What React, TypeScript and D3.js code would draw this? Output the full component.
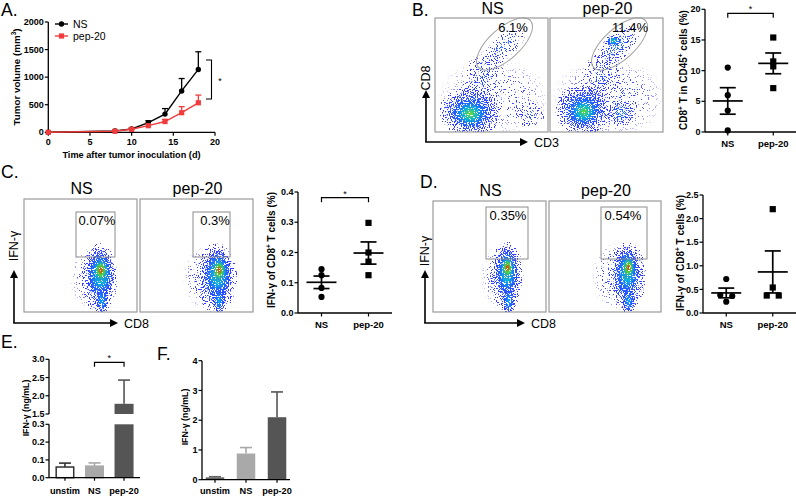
import React from 'react';
import * as d3 from 'd3';

const AXIS_FONT = "'Liberation Sans', Arial, Helvetica, sans-serif";
const LETTER_FONT = "'Liberation Sans', Arial, sans-serif";
const RED = '#f03c3c';
const LIGHT = '#a9a9a9';
const DARK = '#555555';

// ---------- Panel A: tumor growth ----------
const daysA = [0, 8, 10, 12, 14, 16, 18];
const nsVolume = [0, 25, 60, 175, 330, 750, 1140];
const nsVolumeErr = [0, 8, 20, 35, 100, 225, 320];
const pepVolume = [0, 20, 55, 120, 195, 355, 535];
const pepVolumeErr = [0, 8, 15, 25, 40, 110, 140];
const volTicks = [0, 500, 1000, 1500, 2000];
const dayTicks = [0, 5, 10, 15, 20];

// ---------- Scatter panels ----------
const groups = ['NS', 'pep-20'];
const cd8NS = [10.5, 6.0, 3.5, 0.25];
const cd8Pep = [15.4, 11.5, 10.7, 7.15];
const cd8Ticks = [0, 5, 10, 15, 20];
const ifnTumorNS = [0.145, 0.125, 0.083, 0.053];
const ifnTumorPep = [0.298, 0.2, 0.17, 0.125];
const ifnTumorTicks = [0, 0.1, 0.2, 0.3, 0.4];
const ifnSpleenNS = [0.72, 0.38, 0.36, 0.24];
const ifnSpleenPep = [2.2, 0.54, 0.37, 0.37];
const ifnSpleenTicks = [0, 0.5, 1.0, 1.5, 2.0, 2.5];

// ---------- Bar panels ----------
const stimGroups = ['unstim', 'NS', 'pep-20'];
const ifnE = [0.06, 0.065, 1.78];
const ifnEErr = [0.022, 0.018, 0.65];
const eLowTicks = [0, 0.1, 0.2, 0.3];
const eHighTicks = [1.5, 2.0, 2.5, 3.0];
const ifnF = [0.08, 0.88, 2.1];
const ifnFErr = [0.02, 0.2, 0.85];
const fTicks = [0, 1, 2, 3, 4];

// ---------- Flow plots ----------
const flowTitles = ['NS', 'pep-20'];
const pctB = ['6.1%', '11.4%'];
const pctC = ['0.07%', '0.3%'];
const pctD = ['0.35%', '0.54%'];

type Cloud = { x: number; y: number; rx: number; ry: number; rot: number; level: number };
const cloudsBNS: Cloud[] = [
  { x: 0.52, y: 0.3, rx: 0.58, ry: 0.4, rot: 0, level: 0.03 },
  { x: 0.42, y: 0.48, rx: 0.17, ry: 0.27, rot: -20, level: 0.06 },
  { x: 0.62, y: 0.76, rx: 0.24, ry: 0.11, rot: 42, level: 0.1 },
  { x: 0.84, y: 0.15, rx: 0.13, ry: 0.11, rot: 0, level: 0.08 },
  { x: 0.31, y: 0.17, rx: 0.28, ry: 0.22, rot: 0, level: 0.25 },
  { x: 0.31, y: 0.16, rx: 0.16, ry: 0.13, rot: 0, level: 0.6 },
];
const cloudsBPep: Cloud[] = [
  { x: 0.52, y: 0.3, rx: 0.58, ry: 0.4, rot: 0, level: 0.035 },
  { x: 0.45, y: 0.48, rx: 0.17, ry: 0.27, rot: -20, level: 0.06 },
  { x: 0.6, y: 0.76, rx: 0.25, ry: 0.12, rot: 42, level: 0.14 },
  { x: 0.56, y: 0.8, rx: 0.07, ry: 0.05, rot: 0, level: 0.4 },
  { x: 0.63, y: 0.17, rx: 0.13, ry: 0.12, rot: 0, level: 0.15 },
  { x: 0.29, y: 0.19, rx: 0.25, ry: 0.22, rot: 0, level: 0.25 },
  { x: 0.3, y: 0.18, rx: 0.14, ry: 0.13, rot: 0, level: 0.58 },
];
const cloudsCNS: Cloud[] = [
  { x: 0.6, y: 0.3, rx: 0.22, ry: 0.32, rot: 0, level: 0.04 },
  { x: 0.67, y: 0.3, rx: 0.16, ry: 0.32, rot: 0, level: 0.18 },
  { x: 0.68, y: 0.34, rx: 0.12, ry: 0.22, rot: 0, level: 0.55 },
  { x: 0.68, y: 0.37, rx: 0.075, ry: 0.11, rot: 0, level: 1 },
  { x: 0.69, y: 0.1, rx: 0.06, ry: 0.13, rot: 0, level: 0.25 },
];
const cloudsCPep: Cloud[] = [
  { x: 0.61, y: 0.3, rx: 0.26, ry: 0.32, rot: 0, level: 0.05 },
  { x: 0.68, y: 0.3, rx: 0.18, ry: 0.32, rot: 0, level: 0.2 },
  { x: 0.69, y: 0.34, rx: 0.12, ry: 0.22, rot: 0, level: 0.55 },
  { x: 0.7, y: 0.37, rx: 0.075, ry: 0.11, rot: 0, level: 1 },
  { x: 0.7, y: 0.1, rx: 0.06, ry: 0.13, rot: 0, level: 0.25 },
];
const cloudsDNS: Cloud[] = [
  { x: 0.6, y: 0.32, rx: 0.2, ry: 0.34, rot: 0, level: 0.04 },
  { x: 0.655, y: 0.32, rx: 0.15, ry: 0.32, rot: 0, level: 0.18 },
  { x: 0.655, y: 0.37, rx: 0.1, ry: 0.22, rot: 0, level: 0.55 },
  { x: 0.66, y: 0.4, rx: 0.065, ry: 0.11, rot: 0, level: 1 },
  { x: 0.67, y: 0.1, rx: 0.06, ry: 0.13, rot: 0, level: 0.25 },
];
const cloudsDPep: Cloud[] = [
  { x: 0.62, y: 0.32, rx: 0.26, ry: 0.34, rot: 0, level: 0.05 },
  { x: 0.7, y: 0.32, rx: 0.17, ry: 0.32, rot: 0, level: 0.2 },
  { x: 0.7, y: 0.37, rx: 0.1, ry: 0.22, rot: 0, level: 0.55 },
  { x: 0.71, y: 0.4, rx: 0.065, ry: 0.11, rot: 0, level: 1 },
  { x: 0.71, y: 0.1, rx: 0.06, ry: 0.13, rot: 0, level: 0.25 },
];

const densityColor = d3
  .scaleLinear<string>()
  .domain([0, 0.25, 0.5, 0.75, 1])
  .range(['#3535ff', '#00b4ff', '#22d444', '#f2ee00', '#ff2a00'])
  .interpolate(d3.interpolateRgb);

type Box = { x: number; y: number; w: number; h: number };

function FlowPlot({ id, box, clouds, seed, title, titleY, children }: any) {
  const b: Box = box;
  const sx = d3.scaleLinear().domain([0, 1]).range([b.x, b.x + b.w]);
  const sy = d3.scaleLinear().domain([0, 1]).range([b.y + b.h, b.y]);
  const alphaOf = (l: number) => Math.min(1, 0.14 + l * 2.6);
  const shapes = (kind: string) =>
    clouds.map((c: Cloud, i: number) => {
      const cx = sx(c.x);
      const cy = sy(c.y);
      return (
        <ellipse
          key={kind + i}
          cx={cx}
          cy={cy}
          rx={c.rx * b.w}
          ry={c.ry * b.h}
          transform={`rotate(${-c.rot},${cx},${cy})`}
          fill={`url(#${id}-${kind}${i})`}
        />
      );
    });
  return (
    <g>
      <defs>
        <clipPath id={`${id}-clip`}>
          <rect x={b.x} y={b.y} width={b.w} height={b.h} />
        </clipPath>
        <filter id={`${id}-spk`} filterUnits="userSpaceOnUse" x={b.x} y={b.y} width={b.w} height={b.h} colorInterpolationFilters="sRGB">
          <feTurbulence type="fractalNoise" baseFrequency="0.85" numOctaves={1} seed={seed} result="t" />
          <feColorMatrix in="t" type="matrix" values="0 0 0 0 0  0 0 0 0 0  0 0 0 0 0  3 0 0 0 -1" result="n" />
          <feComposite in="SourceAlpha" in2="n" operator="arithmetic" k1={0} k2={10} k3={-10} k4={-0.8} result="m" />
          <feFlood floodColor="#fff" floodOpacity={1} result="w" />
          <feComposite in="w" in2="m" operator="in" />
        </filter>
        <mask id={`${id}-mask`} maskUnits="userSpaceOnUse" x={b.x} y={b.y} width={b.w} height={b.h}>
          <g filter={`url(#${id}-spk)`}>{shapes('d')}</g>
        </mask>
        {clouds.map((c: Cloud, i: number) => {
          const a = alphaOf(c.level);
          return (
            <radialGradient key={'d' + i} id={`${id}-d${i}`}>
              <stop offset="0" stopColor="#fff" stopOpacity={a} />
              <stop offset="0.4" stopColor="#fff" stopOpacity={a * 0.85} />
              <stop offset="0.75" stopColor="#fff" stopOpacity={a * 0.5} />
              <stop offset="0.97" stopColor="#fff" stopOpacity={a * 0.25} />
              <stop offset="1" stopColor="#fff" stopOpacity={0} />
            </radialGradient>
          );
        })}
        {clouds.map((c: Cloud, i: number) => (
          <radialGradient key={'c' + i} id={`${id}-c${i}`}>
            <stop offset="0" stopColor={densityColor(c.level)} stopOpacity={1} />
            <stop offset="0.4" stopColor={densityColor(c.level * 0.55)} stopOpacity={0.85} />
            <stop offset="0.75" stopColor={densityColor(c.level * 0.15)} stopOpacity={0.5} />
            <stop offset="1" stopColor={densityColor(0)} stopOpacity={0} />
          </radialGradient>
        ))}
      </defs>
      <g clipPath={`url(#${id}-clip)`}>
        <g mask={`url(#${id}-mask)`}>
          <rect x={b.x} y={b.y} width={b.w} height={b.h} fill={densityColor(0)} />
          {shapes('c')}
        </g>
      </g>
      <rect x={b.x} y={b.y} width={b.w} height={b.h} fill="none" stroke="#9a9a9a" strokeWidth={1.2} />
      <text x={b.x + b.w / 2 + 1} y={titleY} textAnchor="middle" fontSize={16} fontFamily={AXIS_FONT}>
        {title}
      </text>
      {children}
    </g>
  );
}

function Arrows({ x0, y0, x1, y1, xLabel, yLabel, yLabelY }: any) {
  return (
    <g>
      <line x1={x0} y1={y0} x2={x0} y2={y1 + 7} stroke="#000" strokeWidth={1.6} />
      <path d={`M${x0 - 4},${y1 + 8} L${x0},${y1} L${x0 + 4},${y1 + 8} Z`} fill="#000" />
      <line x1={x0 - 0.8} y1={y0} x2={x1 - 7} y2={y0} stroke="#000" strokeWidth={1.6} />
      <path d={`M${x1 - 8},${y0 - 4} L${x1},${y0} L${x1 - 8},${y0 + 4} Z`} fill="#000" />
      <text x={x1 + 6} y={y0 + 4.5} fontSize={12.5} fontFamily={AXIS_FONT}>
        {xLabel}
      </text>
      <text
        transform={`translate(${x0},${yLabelY}) rotate(-90)`}
        textAnchor="middle"
        dominantBaseline="central"
        fontSize={12.5}
        fontFamily={AXIS_FONT}
      >
        {yLabel}
      </text>
    </g>
  );
}

function Pct({ x, y, t }: any) {
  return (
    <text x={x} y={y} textAnchor="middle" fontSize={13} fontFamily={AXIS_FONT}>
      {t}
    </text>
  );
}

function YAxis({ scale, x, ticks, fmt }: any) {
  const [r0, r1] = scale.range();
  return (
    <g>
      <line x1={x} x2={x} y1={r0} y2={r1} stroke="#000" strokeWidth={1.3} />
      {ticks.map((t: number) => (
        <g key={t}>
          <line x1={x - 3.5} x2={x} y1={scale(t)} y2={scale(t)} stroke="#000" strokeWidth={1.2} />
          <text x={x - 4.5} y={scale(t)} dy="0.35em" textAnchor="end" fontSize={9} fontWeight="bold" fontFamily={AXIS_FONT}>
            {fmt(t)}
          </text>
        </g>
      ))}
    </g>
  );
}

function RotTitle({ x, y, children, size = 9.5 }: any) {
  return (
    <text
      transform={`translate(${x},${y}) rotate(-90)`}
      textAnchor="middle"
      dominantBaseline="central"
      fontSize={size}
      fontWeight="bold"
      fontFamily={AXIS_FONT}
    >
      {children}
    </text>
  );
}

function swarmOffsets(vals: number[], y: (v: number) => number) {
  const idx = vals.map((_, i) => i).sort((a, b) => vals[b] - vals[a]);
  const offs = new Array(vals.length).fill(0);
  let i = 0;
  while (i < idx.length) {
    let j = i + 1;
    while (j < idx.length && Math.abs(y(vals[idx[j]]) - y(vals[idx[j - 1]])) < 4.5) j++;
    const n = j - i;
    for (let k = i; k < j; k++) offs[idx[k]] = (k - i - (n - 1) / 2) * 12;
    i = j;
  }
  return offs;
}

function Scatter({ x0, x1, yScale, ticks, fmt, sets, sig }: any) {
  const xs = d3.scalePoint<string>().domain(groups).range([x0, x1]).padding(0.5);
  const yb = yScale.range()[0];
  return (
    <g fontFamily={AXIS_FONT}>
      <YAxis scale={yScale} x={x0} ticks={ticks} fmt={fmt} />
      <line x1={x0} x2={x1} y1={yb} y2={yb} stroke="#000" strokeWidth={1.3} />
      {groups.map((g, gi) => {
        const vals: number[] = sets[gi];
        const cx = xs(g) as number;
        const m = d3.mean(vals) as number;
        const sem = (d3.deviation(vals) as number) / Math.sqrt(vals.length);
        const offs = swarmOffsets(vals, yScale);
        return (
          <g key={g}>
            <line x1={cx} x2={cx} y1={yb} y2={yb + 3.5} stroke="#000" strokeWidth={1.2} />
            <text x={cx} y={yb + 14.5} textAnchor="middle" fontSize={9.5} fontWeight="bold">
              {g}
            </text>
            {vals.map((v, i) =>
              gi === 0 ? (
                <circle key={i} cx={cx + offs[i]} cy={yScale(v)} r={3.1} fill="#000" />
              ) : (
                <rect key={i} x={cx + offs[i] - 3.1} y={yScale(v) - 3.1} width={6.2} height={6.2} fill="#000" />
              )
            )}
            <line x1={cx - 15} x2={cx + 15} y1={yScale(m)} y2={yScale(m)} stroke="#000" strokeWidth={1.7} />
            <line x1={cx} x2={cx} y1={yScale(m - sem)} y2={yScale(m + sem)} stroke="#000" strokeWidth={1.7} />
            <line x1={cx - 8} x2={cx + 8} y1={yScale(m + sem)} y2={yScale(m + sem)} stroke="#000" strokeWidth={1.7} />
            <line x1={cx - 8} x2={cx + 8} y1={yScale(m - sem)} y2={yScale(m - sem)} stroke="#000" strokeWidth={1.7} />
          </g>
        );
      })}
      {sig && (
        <g>
          <path
            d={`M${xs('NS')},${sig + 4.5} V${sig} H${xs('pep-20')} V${sig + 4.5}`}
            fill="none"
            stroke="#000"
            strokeWidth={1.2}
          />
          <text x={((xs('NS') as number) + (xs('pep-20') as number)) / 2} y={sig - 1} textAnchor="middle" fontSize={9}>
            *
          </text>
        </g>
      )}
    </g>
  );
}

function Letter({ x, y, t }: any) {
  return (
    <text x={x} y={y} fontSize={17.5} fontFamily={LETTER_FONT}>
      {t}
    </text>
  );
}

function PanelA() {
  const x = d3.scaleLinear().domain([0, 20]).range([48.3, 215]);
  const y = d3.scaleLinear().domain([0, 2000]).range([132.3, 22]);
  const lineGen = d3
    .line<number>()
    .x((_, i) => x(daysA[i]))
    .y((d) => y(d));
  const series = [
    { vals: nsVolume, err: nsVolumeErr, color: '#000', shape: 'circle' },
    { vals: pepVolume, err: pepVolumeErr, color: RED, shape: 'square' },
  ];
  return (
    <g fontFamily={AXIS_FONT}>
      <YAxis scale={y} x={48.3} ticks={volTicks} fmt={(d: number) => String(d)} />
      <line x1={x(0)} x2={x(20)} y1={y(0)} y2={y(0)} stroke="#000" strokeWidth={1.3} />
      {dayTicks.map((t) => (
        <g key={t}>
          <line x1={x(t)} x2={x(t)} y1={y(0)} y2={y(0) + 3.5} stroke="#000" strokeWidth={1.2} />
          <text x={x(t)} y={y(0) + 12.5} textAnchor="middle" fontSize={9} fontWeight="bold">
            {t}
          </text>
        </g>
      ))}
      <text x={131.5} y={158} textAnchor="middle" fontSize={9.2} fontWeight="bold">
        Time after tumor inoculation (d)
      </text>
      <RotTitle x={16} y={77} size={9.8}>
        Tumor volume (mm<tspan dy={-3.5} fontSize={6.5}>3</tspan>
        <tspan dy={3.5}>)</tspan>
      </RotTitle>
      {series.map((s, si) => (
        <g key={si}>
          <path d={lineGen(s.vals) as string} fill="none" stroke={s.color} strokeWidth={1.4} />
          {s.vals.map((v, i) =>
            s.err[i] > 0 ? (
              <g key={i}>
                <line x1={x(daysA[i])} x2={x(daysA[i])} y1={y(v)} y2={y(v + s.err[i])} stroke={s.color} strokeWidth={1.3} />
                <line
                  x1={x(daysA[i]) - 3}
                  x2={x(daysA[i]) + 3}
                  y1={y(v + s.err[i])}
                  y2={y(v + s.err[i])}
                  stroke={s.color}
                  strokeWidth={1.3}
                />
              </g>
            ) : null
          )}
          {s.vals.map((v, i) =>
            s.shape === 'circle' ? (
              <circle key={'m' + i} cx={x(daysA[i])} cy={y(v)} r={2.7} fill={s.color} />
            ) : (
              <rect key={'m' + i} x={x(daysA[i]) - 2.6} y={y(v) - 2.6} width={5.2} height={5.2} fill={s.color} />
            )
          )}
        </g>
      ))}
      {/* legend */}
      <line x1={55} x2={68} y1={24} y2={24} stroke="#000" strokeWidth={1.4} />
      <circle cx={61.5} cy={24} r={2.7} fill="#000" />
      <text x={73} y={27.5} fontSize={10.5}>
        NS
      </text>
      <line x1={55} x2={68} y1={36} y2={36} stroke={RED} strokeWidth={1.4} />
      <rect x={58.9} y={33.4} width={5.2} height={5.2} fill={RED} />
      <text x={73} y={39.5} fontSize={10.5}>
        pep-20
      </text>
      {/* significance */}
      <path d="M206,60 H211.5 V99 H206" fill="none" stroke="#000" strokeWidth={1.1} />
      <text x={220} y={84} textAnchor="middle" fontSize={9}>
        *
      </text>
    </g>
  );
}

function PanelE() {
  const xb = d3.scaleBand<string>().domain(stimGroups).range([49, 140]).paddingInner(0.356).paddingOuter(0.218);
  const yLo = d3.scaleLinear().domain([0, 0.3]).range([477.7, 424.3]);
  const yHi = d3.scaleLinear().domain([1.5, 3.0]).range([414, 359.3]);
  const fills = ['#ffffff', LIGHT, DARK];
  const strokes = ['#333', LIGHT, DARK];
  const bw = xb.bandwidth();
  return (
    <g fontFamily={AXIS_FONT}>
      <YAxis scale={yLo} x={49} ticks={eLowTicks} fmt={d3.format('.1f')} />
      <YAxis scale={yHi} x={49} ticks={eHighTicks} fmt={d3.format('.1f')} />
      {stimGroups.map((g, i) => {
        const v = ifnE[i];
        const top = v + ifnEErr[i];
        const x0 = xb(g) as number;
        const cx = x0 + bw / 2;
        const hi = v > 0.3;
        const ys = hi ? yHi : yLo;
        return (
          <g key={g}>
            <line x1={cx} x2={cx} y1={ys(v)} y2={ys(top)} stroke={strokes[i]} strokeWidth={1.6} />
            <line x1={cx - 6} x2={cx + 6} y1={ys(top)} y2={ys(top)} stroke={strokes[i]} strokeWidth={1.6} />
            {hi ? (
              <g>
                <rect x={x0} y={yLo(0.3)} width={bw} height={yLo(0) - yLo(0.3)} fill={fills[i]} />
                <rect x={x0} y={yHi(v)} width={bw} height={yHi(1.5) - yHi(v)} fill={fills[i]} />
              </g>
            ) : (
              <rect
                x={x0 + 0.75}
                y={yLo(v)}
                width={bw - 1.5}
                height={yLo(0) - yLo(v)}
                fill={fills[i]}
                stroke={strokes[i]}
                strokeWidth={1.5}
              />
            )}
            <line x1={cx} x2={cx} y1={yLo(0)} y2={yLo(0) + 3} stroke="#000" strokeWidth={1.2} />
            <text x={cx} y={494} textAnchor="middle" fontSize={9.2} fontWeight="bold">
              {g}
            </text>
          </g>
        );
      })}
      <line x1={49} x2={140} y1={yLo(0)} y2={yLo(0)} stroke="#000" strokeWidth={1.3} />
      {(() => {
        const a = (xb('NS') as number) + bw / 2;
        const b = (xb('pep-20') as number) + bw / 2;
        return (
          <g>
            <path d={`M${a},366.7 V362.3 H${b} V366.7`} fill="none" stroke="#000" strokeWidth={1.2} />
            <text x={(a + b) / 2} y={361} textAnchor="middle" fontSize={9}>
              *
            </text>
          </g>
        );
      })()}
      <RotTitle x={26} y={408} size={8.8}>
        IFN-γ (ng/mL)
      </RotTitle>
    </g>
  );
}

function PanelF() {
  const xb = d3.scaleBand<string>().domain(stimGroups).range([202, 290]).paddingInner(0.403).paddingOuter(0.12);
  const y = d3.scaleLinear().domain([0, 4]).range([479.7, 360.7]);
  const fills = ['#666666', LIGHT, DARK];
  const bw = xb.bandwidth();
  return (
    <g fontFamily={AXIS_FONT}>
      <YAxis scale={y} x={202} ticks={fTicks} fmt={d3.format('d')} />
      {stimGroups.map((g, i) => {
        const v = ifnF[i];
        const top = v + ifnFErr[i];
        const x0 = xb(g) as number;
        const cx = x0 + bw / 2;
        return (
          <g key={g}>
            <line x1={cx} x2={cx} y1={y(v)} y2={y(top)} stroke={fills[i]} strokeWidth={1.6} />
            <line x1={cx - 6} x2={cx + 6} y1={y(top)} y2={y(top)} stroke={fills[i]} strokeWidth={1.6} />
            <rect x={x0} y={y(v)} width={bw} height={y(0) - y(v)} fill={fills[i]} />
            <line x1={cx} x2={cx} y1={y(0)} y2={y(0) + 3} stroke="#000" strokeWidth={1.2} />
            <text x={cx} y={494} textAnchor="middle" fontSize={9.2} fontWeight="bold">
              {g}
            </text>
          </g>
        );
      })}
      <line x1={202} x2={290} y1={y(0)} y2={y(0)} stroke="#000" strokeWidth={1.3} />
      <RotTitle x={185} y={417} size={8.8}>
        IFN-γ (ng/mL)
      </RotTitle>
    </g>
  );
}

const supPlus = (
  <tspan dy={-3.5} fontSize={6.5}>
    +
  </tspan>
);

export default function App() {
  const yB = d3.scaleLinear().domain([0, 20]).range([132, 9.3]);
  const yC = d3.scaleLinear().domain([0, 0.4]).range([313, 192]);
  const yD = d3.scaleLinear().domain([0, 2.5]).range([313, 195]);
  const boxBNS = { x: 435, y: 18, w: 113, h: 114 };
  const boxBPep = { x: 550, y: 18, w: 113, h: 114 };
  const boxCNS = { x: 24, y: 199, w: 113, h: 113 };
  const boxCPep = { x: 140, y: 199, w: 113, h: 113 };
  const boxDNS = { x: 433, y: 201, w: 113, h: 111 };
  const boxDPep = { x: 549, y: 201, w: 112, h: 111 };
  const gate = '#8c8c8c';
  return (
    <svg
      width={796}
      height={496}
      style={{ position: 'absolute', left: 0, top: 0, background: '#fff', display: 'block' }}
    >
      <rect x={0} y={0} width={796} height={496} fill="#fff" />
      <Letter x={1} y={16} t="A." />
      <Letter x={412} y={16} t="B." />
      <Letter x={1} y={178} t="C." />
      <Letter x={420} y={188} t="D." />
      <Letter x={1} y={348} t="E." />
      <Letter x={157} y={360} t="F." />

      <PanelA />

      {/* Panel B flow */}
      <FlowPlot id="bns" box={boxBNS} clouds={cloudsBNS} seed={3} title={flowTitles[0]} titleY={14}>
        <ellipse cx={504.5} cy={44} rx={35} ry={15.5} transform="rotate(-42,504.5,44)" fill="none" stroke="#a0a0a0" strokeWidth={1} />
        <Pct x={513} y={31.5} t={pctB[0]} />
      </FlowPlot>
      <FlowPlot id="bpep" box={boxBPep} clouds={cloudsBPep} seed={11} title={flowTitles[1]} titleY={14}>
        <ellipse cx={619.5} cy={44} rx={35} ry={15.5} transform="rotate(-42,619.5,44)" fill="none" stroke="#a0a0a0" strokeWidth={1} />
        <Pct x={630} y={32} t={pctB[1]} />
      </FlowPlot>
      <Arrows x0={426} y0={142} x1={528} y1={90} xLabel="CD3" yLabel="CD8" yLabelY={78} />

      <Scatter x0={705} x1={796} yScale={yB} ticks={cd8Ticks} fmt={d3.format('d')} sets={[cd8NS, cd8Pep]} sig={13.3} />
      <RotTitle x={683} y={70} size={10}>
        CD8{supPlus}
        <tspan dy={3.5}> T in CD45</tspan>
        {supPlus}
        <tspan dy={3.5}> cells (%)</tspan>
      </RotTitle>

      {/* Panel C flow */}
      <FlowPlot id="cns" box={boxCNS} clouds={cloudsCNS} seed={5} title={flowTitles[0]} titleY={194}>
        <rect x={76} y={212} width={39} height={45} fill="none" stroke={gate} strokeWidth={1} />
        <Pct x={97} y={225} t={pctC[0]} />
      </FlowPlot>
      <FlowPlot id="cpep" box={boxCPep} clouds={cloudsCPep} seed={17} title={flowTitles[1]} titleY={194}>
        <rect x={193} y={212} width={37} height={45} fill="none" stroke={gate} strokeWidth={1} />
        <Pct x={215} y={225} t={pctC[1]} />
      </FlowPlot>
      <Arrows x0={14} y0={323} x1={118} y1={270} xLabel="CD8" yLabel="IFN-γ" yLabelY={246} />

      <Scatter x0={298} x1={392} yScale={yC} ticks={ifnTumorTicks} fmt={d3.format('.1f')} sets={[ifnTumorNS, ifnTumorPep]} sig={197.7} />
      <RotTitle x={271} y={250} size={10}>
        IFN-γ of CD8{supPlus}
        <tspan dy={3.5}> T cells (%)</tspan>
      </RotTitle>

      {/* Panel D flow */}
      <FlowPlot id="dns" box={boxDNS} clouds={cloudsDNS} seed={23} title={flowTitles[0]} titleY={196}>
        <rect x={486} y={207} width={42} height={52} fill="none" stroke={gate} strokeWidth={1} />
        <Pct x={508} y={220} t={pctD[0]} />
      </FlowPlot>
      <FlowPlot id="dpep" box={boxDPep} clouds={cloudsDPep} seed={29} title={flowTitles[1]} titleY={196}>
        <rect x={601} y={207} width={46} height={52} fill="none" stroke={gate} strokeWidth={1} />
        <Pct x={623} y={220} t={pctD[1]} />
      </FlowPlot>
      <Arrows x0={425} y0={323} x1={525} y1={270} xLabel="CD8" yLabel="IFN-γ" yLabelY={251} />

      <Scatter x0={703} x1={796} yScale={yD} ticks={ifnSpleenTicks} fmt={d3.format('.1f')} sets={[ifnSpleenNS, ifnSpleenPep]} sig={null} />
      <RotTitle x={680} y={253} size={10}>
        IFN-γ of CD8{supPlus}
        <tspan dy={3.5}> T cells (%)</tspan>
      </RotTitle>

      <PanelE />
      <PanelF />
    </svg>
  );
}
